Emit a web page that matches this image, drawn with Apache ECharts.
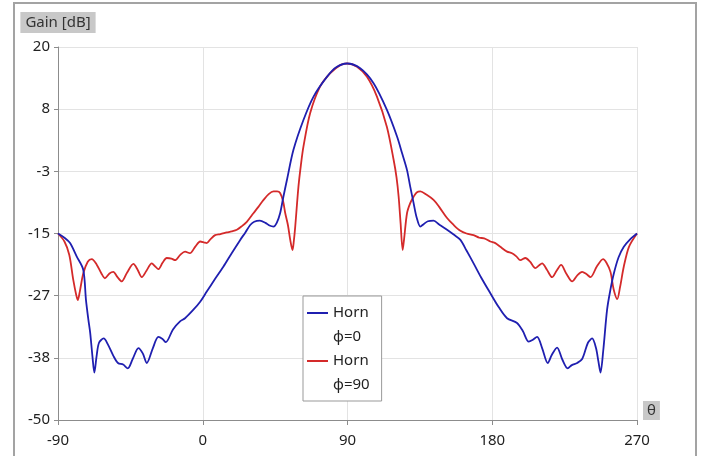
<!DOCTYPE html>
<html>
<head>
<meta charset="utf-8">
<title>Horn gain</title>
<script src="https://cdn.jsdelivr.net/npm/echarts@6/dist/echarts.min.js"></script>
<style>
    html, body { margin: 0; padding: 0; background: #fff; }
    #main { width: 702px; height: 456px; }
</style>
</head>
<body>
<div id="main"></div>
<script>
// theta [deg] / gain [dB]
var thetaBlue = [-90, -86, -82.5, -78.4, -74.3, -72.6, -71.1, -70, -68.6, -67.4, -66, -64.5, -61.6, -59, -55.5, -52.7, -49.5, -46.6, -43.5, -40,
    -37.3, -34.8, -31, -27.6, -25, -23, -18.5, -14.1, -11, -5.8, -1.6, 2.5, 7.5, 12.9, 18, 23.3, 26.5, 29.5, 32, 35.5,
    39, 41.5, 44, 46, 48.1, 50.2, 52.3, 56.4, 62.6, 68.9, 77.2, 83, 89.7, 97.9, 106.2, 114.5, 120.8, 124, 127, 129,
    131.1, 133, 135.3, 137.5, 140, 143.5, 147, 151.9, 156, 160.2, 164, 168.4, 173, 178.8, 184, 189.2, 195.4, 199, 202.7, 205,
    207.9, 211, 214.5, 217, 220.3, 223.5, 226.9, 229.5, 232.8, 236, 239.5, 242.1, 244.5, 246, 247.3, 249, 251.4, 253.5, 255.6, 258.5,
    261.8, 266, 270];
var gainBlue = [-15, -15.8, -16.8, -19.3, -21.8, -27.5, -31.2, -33.6, -38, -41.1, -38, -35.5, -34.7, -35.8, -38, -39.3, -39.6, -40.3, -38.5, -36.5,
    -37.5, -39.3, -36.5, -34.4, -34.8, -35.4, -33, -31.5, -30.9, -29.3, -27.8, -25.9, -23.6, -21.2, -18.7, -16.2, -14.8, -13.4, -12.8, -12.6,
    -13, -13.5, -13.7, -13, -11.2, -8, -5, 0.7, 6.3, 10.7, 14.4, 16.2, 16.9, 16, 13.2, 8.2, 3.2, 0, -3.1, -6.2,
    -9.3, -12, -13.7, -13.2, -12.7, -12.6, -13.3, -14.3, -15.2, -16.2, -18.2, -20.6, -23.2, -26.2, -28.8, -30.9, -31.8, -33.3, -35.3, -35,
    -34.4, -36.5, -39.3, -37.8, -36.4, -38.6, -40.3, -39.7, -39.3, -38.5, -35.5, -34.7, -36.5, -39, -41.1, -37, -29.3, -25.5, -22.5, -19.5,
    -17.5, -16, -15];

var thetaRed = [-90, -86, -83, -80.5, -78.7, -77.7, -76.5, -74.3, -71.5, -69, -66, -63, -60.8, -58, -55.6, -53, -50.4, -47, -43.1, -40.5,
    -37.9, -35, -31.7, -29.5, -27.6, -25, -22.4, -19.5, -17.2, -14, -11, -8, -4.5, -1.6, 1, 2.5, 5, 7.7, 11, 15,
    18, 21.2, 24, 27.4, 31.5, 34.6, 37.8, 41, 44, 46.2, 48.1, 50, 51.3, 53, 54.4, 55.8, 56.6, 57.5, 59.5, 61,
    62.6, 66.8, 73, 79.3, 85.5, 89.7, 95.9, 102.1, 108.3, 114.5, 118.7, 120.5, 121.8, 123, 124.3, 125.2, 127, 129, 131.1, 133,
    135.3, 139, 143.5, 147, 151.9, 156, 160.2, 164, 168.4, 172, 175, 178.8, 181.9, 185, 189.2, 192.3, 195, 197.5, 200.6, 203.5,
    206.8, 209, 211, 214, 217.2, 220, 222.8, 226, 229.7, 233, 235.9, 238.5, 241.1, 245, 248.9, 251, 253.5, 255.5, 257.7, 259.5,
    261.8, 265, 270];
var gainRed = [-15, -16.5, -19, -23.7, -26.5, -27.5, -26, -22.5, -20.3, -19.8, -20.8, -22.5, -23.4, -22.5, -22.2, -23.2, -24, -22.3, -20.7, -21.8,
    -23.2, -22, -20.6, -21.2, -21.7, -20.5, -19.6, -19.7, -20, -19, -18.4, -18.7, -17.4, -16.5, -16.7, -16.8, -16, -15.3, -15.1, -14.8,
    -14.6, -14.3, -13.7, -12.8, -11.2, -10, -8.7, -7.6, -7.1, -7.1, -7.4, -9, -11.2, -13.5, -16.2, -18.1, -16.5, -13.7, -6.2, -2.2,
    1.3, 7.6, 12.6, 15.1, 16.6, 16.9, 16.3, 14.4, 10.7, 5, -1.2, -4.5, -8.1, -13, -18.1, -16, -11.2, -9.3, -8.1, -7.3,
    -7.1, -7.7, -8.7, -10, -12.1, -13.4, -14.5, -15, -15.3, -15.8, -15.9, -16.5, -16.8, -17.5, -18.4, -18.7, -19.3, -20, -19.6, -20.3,
    -21.5, -21, -20.6, -21.8, -23.2, -22, -20.9, -22.5, -24, -22.8, -22.2, -22.6, -23.2, -21.2, -19.8, -20.5, -22.2, -25.5, -27.3, -25,
    -21.2, -17.5, -15];

var seriesNames = ['Horn\n\u03d5=0', 'Horn\n\u03d5=90'];
var seriesColors = ['#1f1fb0', '#d42a2a'];

function pairs(xs, ys) {
    var out = [];
    for (var i = 0; i < xs.length; i++) {
        out.push([xs[i], ys[i]]);
    }
    return out;
}

var font = 'Noto Sans';
var myChart = echarts.init(document.getElementById('main'));

var option = {
    animation: false,
    textStyle: { fontFamily: font },
    graphic: [{
        type: 'rect',
        shape: { x: 14, y: 3, width: 682, height: 470 },
        style: { fill: 'none', stroke: '#a3a3a3', lineWidth: 2 },
        z: -1
    }],
    grid: {
        left: 58,
        right: 65,
        top: 47,
        bottom: 36
    },
    legend: {
        orient: 'vertical',
        left: 303,
        top: 296,
        itemWidth: 21,
        itemHeight: 46,
        itemGap: 0,
        // short bar level with the first text line
        icon: 'path://M0,0L21,0 M0,10.1H21V11.9H0Z M0,46L21,46',
        itemStyle: { borderWidth: 0 },
        padding: [5, 12, 4, 4],
        backgroundColor: '#fff',
        borderColor: '#999',
        borderWidth: 1,
        borderRadius: 0,
        textStyle: {
            fontFamily: font,
            fontSize: 15,
            lineHeight: 24,
            color: '#222'
        },
        data: seriesNames
    },
    xAxis: {
        type: 'value',
        min: -90,
        max: 270,
        interval: 90,
        name: '\u03b8',
        nameLocation: 'end',
        nameGap: 6,
        nameTextStyle: {
            fontFamily: font,
            fontSize: 15,
            color: '#333',
            backgroundColor: '#c8c8c8',
            padding: [2, 4, 2, 4],
            verticalAlign: 'bottom'
        },
        axisLine: { onZero: false, lineStyle: { color: '#8c8c8c', width: 1 } },
        axisTick: { length: 5, lineStyle: { color: '#8c8c8c' } },
        axisLabel: { margin: 13, fontSize: 15, color: '#222' },
        splitLine: { lineStyle: { color: '#e3e3e3' } }
    },
    yAxis: {
        type: 'value',
        min: -50,
        max: 20,
        interval: 70 / 6,
        name: 'Gain [dB]',
        nameLocation: 'end',
        nameGap: 14,
        nameTextStyle: {
            fontFamily: font,
            fontSize: 15,
            color: '#333',
            backgroundColor: '#c8c8c8',
            padding: [3, 5, 3, 5]
        },
        axisLine: { show: true, onZero: false, lineStyle: { color: '#8c8c8c', width: 1 } },
        axisTick: { show: true, length: 4, lineStyle: { color: '#8c8c8c' } },
        axisLabel: {
            margin: 8,
            fontSize: 15,
            color: '#222',
            formatter: function (v) { return String(Math.round(v)); }
        },
        splitLine: { lineStyle: { color: '#e3e3e3' } }
    },
    series: [{
        name: seriesNames[0],
        type: 'line',
        symbol: 'none',
        smooth: 0.3,
        lineStyle: { color: seriesColors[0], width: 1.8 },
        itemStyle: { color: seriesColors[0] },
        data: pairs(thetaBlue, gainBlue),
        z: 3
    }, {
        name: seriesNames[1],
        type: 'line',
        symbol: 'none',
        smooth: 0.3,
        lineStyle: { color: seriesColors[1], width: 1.8 },
        itemStyle: { color: seriesColors[1] },
        data: pairs(thetaRed, gainRed),
        z: 2
    }]
};

myChart.setOption(option);
</script>
</body>
</html>
